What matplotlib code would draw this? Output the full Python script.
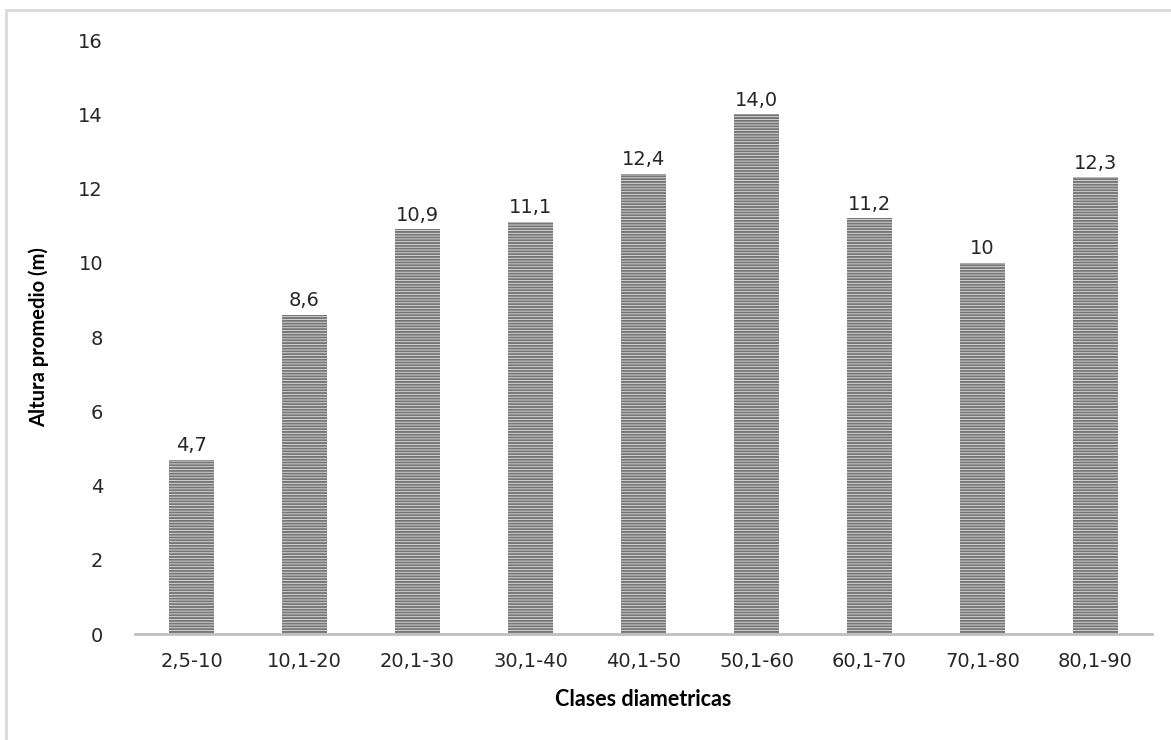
import matplotlib.pyplot as plt
from matplotlib.patches import Rectangle

# Altura promedio por clase diametrica
clases = ["2,5-10", "10,1-20", "20,1-30", "30,1-40", "40,1-50",
          "50,1-60", "60,1-70", "70,1-80", "80,1-90"]
altura = [4.7, 8.6, 10.9, 11.1, 12.4, 14.0, 11.2, 10.0, 12.3]
etiquetas = ["4,7", "8,6", "10,9", "11,1", "12,4", "14,0", "11,2", "10", "12,3"]
yticks = [0, 2, 4, 6, 8, 10, 12, 14, 16]

plt.rcParams['font.family'] = ['DejaVu Sans']
plt.rcParams['hatch.linewidth'] = 1.4

fig = plt.figure(figsize=(11.71, 7.40), dpi=100)
ax = fig.add_axes([0.1153, 0.1432, 0.8685, 0.8027])

# marco gris del grafico
fig.patches.append(Rectangle((6 / 1171, -0.1), 1.2, 0.1 + 730 / 740,
                             transform=fig.transFigure, fill=False,
                             edgecolor='#d9d9d9', linewidth=2))

x = range(len(clases))
bars = ax.bar(x, altura, width=0.39, color='#e0e0e0', edgecolor='#767676',
              hatch='------', linewidth=0)

for b, txt in zip(bars, etiquetas):
    ax.text(b.get_x() + b.get_width() / 2, b.get_height() + 0.12, txt,
            ha='center', va='bottom', fontsize=14, color='#262626')

ax.set_xlim(-0.5, len(clases) - 0.5)
ax.set_ylim(0, 16)
ax.set_yticks(yticks)
ax.set_xticks(list(x))
ax.set_xticklabels(clases)
ax.tick_params(axis='both', length=0, labelsize=14, labelcolor='#262626')
ax.tick_params(axis='y', pad=23)
ax.tick_params(axis='x', pad=13)

for s in ['top', 'right', 'left']:
    ax.spines[s].set_visible(False)
ax.spines['bottom'].set_color('#bfbfbf')
ax.spines['bottom'].set_linewidth(2)

ax.set_xlabel("Clases diametricas", fontsize=15.5, fontweight='bold',
              family='Lato', labelpad=13)
ax.set_ylabel("Altura promedio (m)", fontsize=14.5, fontweight='bold',
              family='Lato', labelpad=21)

fig.savefig("out.png", dpi=100)
